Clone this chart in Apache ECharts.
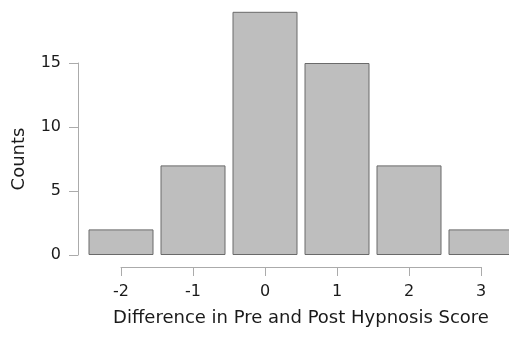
<!DOCTYPE html>
<html>
<head>
<meta charset="utf-8">
<script src="https://cdn.jsdelivr.net/npm/echarts@6/dist/echarts.min.js"></script>
<style>
html,body{margin:0;padding:0;background:#fff;}
#chart{width:509px;height:338px;}
</style>
</head>
<body>
<div id="chart"></div>
<script>
var scoreDiffs = [-2, -1, 0, 1, 2, 3];
var counts = [2, 7, 19, 15, 7, 2];
var xTicks = [-2, -1, 0, 1, 2, 3];
var yTicks = [0, 5, 10, 15];

var chart = echarts.init(document.getElementById('chart'), null, {renderer: 'canvas'});
var font = 'DejaVu Sans';
chart.setOption({
  animation: false,
  backgroundColor: '#ffffff',
  grid: {left: 121, right: 28, top: 63, bottom: 83},
  xAxis: {
    type: 'value',
    min: xTicks[0], max: xTicks[xTicks.length - 1], interval: 1,
    offset: 12,
    name: 'Difference in Pre and Post Hypnosis Score',
    nameLocation: 'middle',
    nameGap: 42,
    nameTextStyle: {fontFamily: font, fontSize: 18, color: '#1a1a1a'},
    axisLine: {show: true, onZero: false, lineStyle: {color: '#ababab', width: 1}},
    axisTick: {show: true, length: 9, lineStyle: {color: '#ababab'}},
    axisLabel: {fontFamily: font, fontSize: 16, color: '#1a1a1a', margin: 17},
    splitLine: {show: false}
  },
  yAxis: {
    type: 'value',
    min: yTicks[0], max: yTicks[yTicks.length - 1], interval: 5,
    offset: 43,
    name: 'Counts',
    nameLocation: 'middle',
    nameGap: 50,
    nameTextStyle: {fontFamily: font, fontSize: 18, color: '#1a1a1a'},
    axisLine: {show: true, onZero: false, lineStyle: {color: '#ababab', width: 1}},
    axisTick: {show: true, length: 9, lineStyle: {color: '#ababab'}},
    axisLabel: {fontFamily: font, fontSize: 16, color: '#1a1a1a', margin: 17},
    splitLine: {show: false}
  },
  series: [{
    type: 'bar',
    clip: false,
    barWidth: 65,
    data: scoreDiffs.map(function (x, i) { return [x, counts[i]]; }),
    itemStyle: {color: '#bebebe', borderColor: '#6a6a6a', borderWidth: 1}
  }]
});
</script>
</body>
</html>
